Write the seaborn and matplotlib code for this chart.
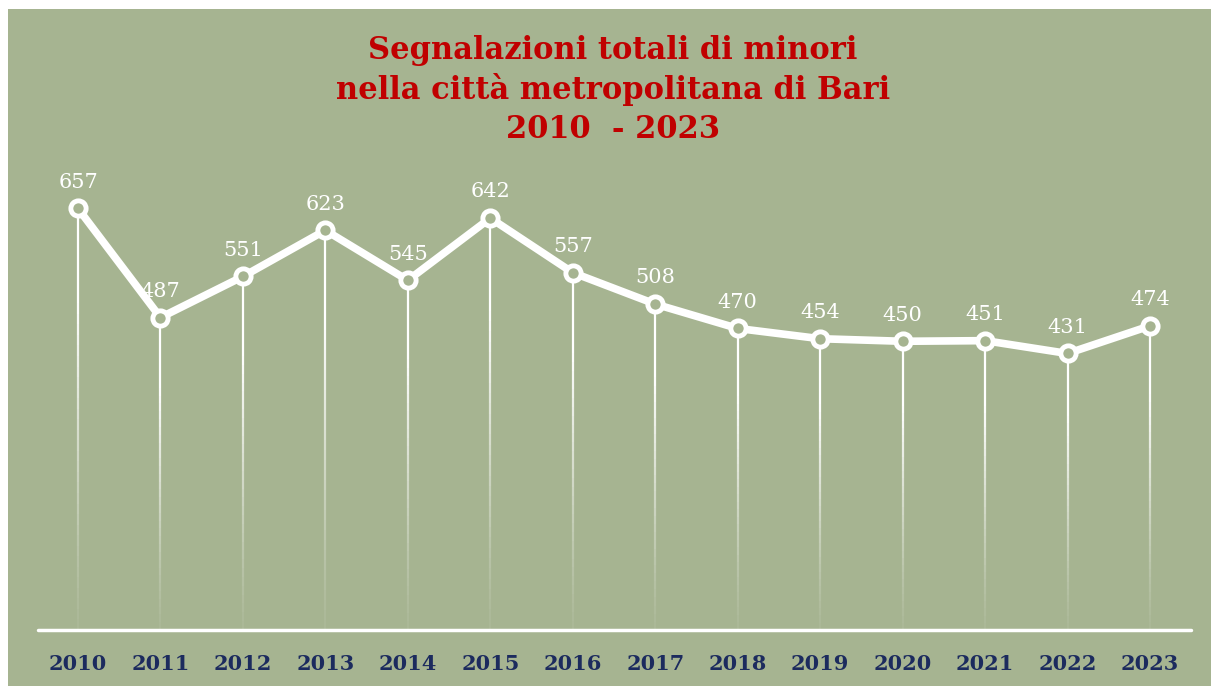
import numpy as np
import pandas as pd
import seaborn as sns
import matplotlib.pyplot as plt
from matplotlib.patches import Rectangle

# data
years = [2010, 2011, 2012, 2013, 2014, 2015, 2016, 2017, 2018, 2019, 2020, 2021, 2022, 2023]
segnalazioni = [657, 487, 551, 623, 545, 642, 557, 508, 470, 454, 450, 451, 431, 474]
title_lines = ["Segnalazioni totali di minori",
               "nella città metropolitana di Bari",
               "2010  - 2023"]

df = pd.DataFrame({"anno": years, "totale": segnalazioni})

green = "#a6b491"
red = "#c00000"
navy = "#1c2b5e"

sns.set_theme(style="white")
plt.rcParams["font.family"] = ["DejaVu Serif"]

W, H = 1211, 686
fig = plt.figure(figsize=(W / 100, H / 100), dpi=100, facecolor="white")
fig.patches.append(Rectangle((8 / W, 0), 1 - 8 / W, (H - 9) / H,
                             transform=fig.transFigure, facecolor=green,
                             edgecolor="none", zorder=-10))

# axes: baseline at y=630px, top at 160px; x from 38px to 1191px
step = (1150 - 78) / 13
ax = fig.add_axes([38 / W, (H - 630) / H, (1191 - 38) / W, (630 - 160) / H])
ax.set_facecolor("none")
ymax = (630 - 160) / (145 / 226)
ax.set_ylim(0, ymax)
ax.set_xlim(2010 - (78 - 38) / step, 2023 + (1191 - 1150) / step)

# vertical drop lines that fade toward the baseline
n = 40
for x, y in zip(years, segnalazioni):
    edges = np.linspace(0, y, n + 1)
    for i in range(n):
        frac = edges[i + 1] / y
        a = min(1.0, 0.05 + 1.3 * frac ** 1.3)
        ax.plot([x, x], [edges[i], edges[i + 1]], color="white", lw=1.6,
                alpha=a, solid_capstyle="butt", zorder=1)

sns.lineplot(data=df, x="anno", y="totale", ax=ax, color="white", lw=5.5,
             marker="o", markersize=11, markerfacecolor=green,
             markeredgecolor="white", markeredgewidth=3.5, zorder=3)

for x, y in zip(years, segnalazioni):
    ax.annotate(str(y), (x, y), xytext=(0, 12), textcoords="offset points",
                ha="center", va="bottom", color="white", fontsize=15)

# baseline
ax.axhline(0, color="white", lw=2.5, zorder=2, clip_on=False)

ax.set_xticks(years)
ax.set_xticklabels([str(v) for v in years], color=navy, fontsize=15,
                   fontweight="bold")
ax.tick_params(axis="x", length=0, pad=17)
ax.set_yticks([])
ax.set_xlabel("")
ax.set_ylabel("")
for s in ax.spines.values():
    s.set_visible(False)

for line, ypx in zip(title_lines, [50, 90, 130]):
    fig.text(613 / W, 1 - ypx / H, line, ha="center", va="center",
             color=red, fontsize=22, fontweight="bold")

fig.savefig("out.png", dpi=100, facecolor="white")
